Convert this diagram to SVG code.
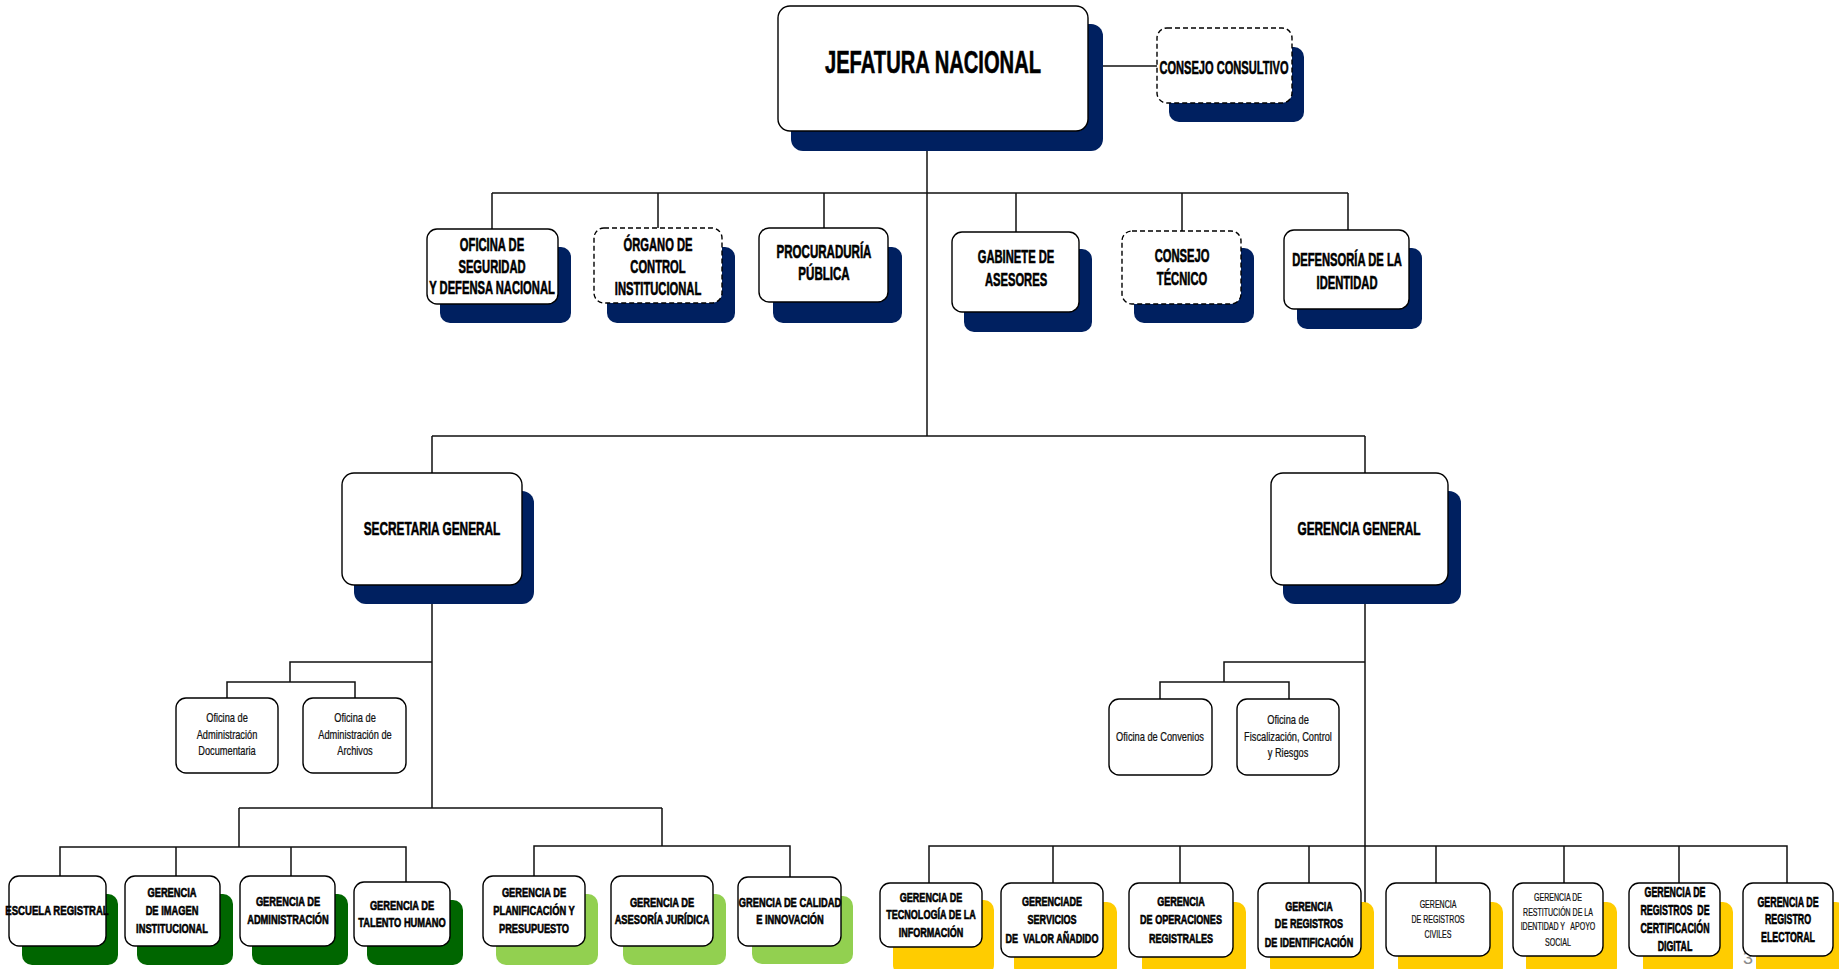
<svg xmlns="http://www.w3.org/2000/svg" width="1839" height="969" viewBox="0 0 1839 969">
<style>
.box{fill:#fff;stroke:#000;stroke-width:1.4}
.dash{stroke-dasharray:5 3}
.nv{fill:#002060}
.dg{fill:#006600}
.lg{fill:#92D050}
.ye{fill:#FFCC00}
.ln{fill:none;stroke:#111;stroke-width:1.5}
.b{font-family:"Liberation Sans",Arial,sans-serif;font-weight:bold;fill:#000;stroke:#000;stroke-width:0.6;text-anchor:middle}
.r{font-family:"Liberation Sans",Arial,sans-serif;font-weight:normal;fill:#111;stroke:#111;stroke-width:0.25;text-anchor:middle}
.pg{font-family:"Liberation Sans",Arial,sans-serif;fill:#8c8c8c;text-anchor:middle}
</style>
<rect width="1839" height="969" fill="#fff"/>
<g id="connectors">
<path class="ln" d="M1088 66H1157"/>
<path class="ln" d="M927 131V436"/>
<path class="ln" d="M492 193H1348M492 193V229M658 193V228M824 193V228M1016 193V232M1182 193V231M1348 193V230"/>
<path class="ln" d="M432 436H1365M432 436V473M1365 436V473"/>
<path class="ln" d="M432 585V808M432 662H290V682M227 698V682H355V698"/>
<path class="ln" d="M239 808H662M239 808V847M60 876V847H406V882M176 847V876M291 847V876"/>
<path class="ln" d="M662 808V846M534 876V846H790V877"/>
<path class="ln" d="M1365 585V946M1365 662H1224V682M1160 699V682H1289V699"/>
<path class="ln" d="M929 883V846H1787V883M1053 846V883M1180 846V883M1309 846V883M1436 846V883M1564 846V883M1679 846V883"/>
</g>
<text class="pg" x="1748" y="964" font-size="18">3</text>
<g id="jefatura-nacional">
<rect class="nv" x="791" y="24" width="312" height="127" rx="12"/>
<rect class="box" x="778" y="6" width="310" height="125" rx="12"/>
<text class="b" transform="translate(933 0) scale(0.63 1)" font-size="32" y="73" x="0">JEFATURA NACIONAL</text>
</g>
<g id="consejo-consultivo">
<rect class="nv" x="1169" y="47" width="135" height="75" rx="10"/>
<rect class="box dash" x="1157" y="28" width="135" height="75" rx="10"/>
<text class="b" transform="translate(1224 0) scale(0.584 1)" font-size="19" y="74" x="0">CONSEJO CONSULTIVO</text>
</g>
<g id="oficina-seguridad">
<rect class="nv" x="440" y="247" width="131" height="76" rx="10"/>
<rect class="box" x="427" y="229" width="131" height="75" rx="10"/>
<text class="b" transform="translate(492 0) scale(0.64 1)" font-size="17.5"><tspan x="0" y="251">OFICINA DE</tspan><tspan x="0" y="273">SEGURIDAD</tspan><tspan x="0" y="294">Y DEFENSA NACIONAL</tspan></text>
</g>
<g id="organo-control">
<rect class="nv" x="607" y="247" width="128" height="76" rx="10"/>
<rect class="box dash" x="594" y="228" width="128" height="75" rx="10"/>
<text class="b" transform="translate(658 0) scale(0.64 1)" font-size="17.5"><tspan x="0" y="251">ÓRGANO DE</tspan><tspan x="0" y="273">CONTROL</tspan><tspan x="0" y="295">INSTITUCIONAL</tspan></text>
</g>
<g id="procuraduria">
<rect class="nv" x="773" y="247" width="129" height="76" rx="10"/>
<rect class="box" x="759" y="228" width="129" height="74" rx="10"/>
<text class="b" transform="translate(824 0) scale(0.66 1)" font-size="17.5"><tspan x="0" y="258">PROCURADURÍA</tspan><tspan x="0" y="280">PÚBLICA</tspan></text>
</g>
<g id="gabinete">
<rect class="nv" x="964" y="249" width="128" height="83" rx="10"/>
<rect class="box" x="952" y="232" width="127" height="80" rx="10"/>
<text class="b" transform="translate(1016 0) scale(0.64 1)" font-size="17.5"><tspan x="0" y="263">GABINETE DE</tspan><tspan x="0" y="286">ASESORES</tspan></text>
</g>
<g id="consejo-tecnico">
<rect class="nv" x="1134" y="248" width="120" height="75" rx="10"/>
<rect class="box dash" x="1122" y="231" width="119" height="73" rx="10"/>
<text class="b" transform="translate(1182 0) scale(0.64 1)" font-size="17.5"><tspan x="0" y="262">CONSEJO</tspan><tspan x="0" y="285">TÉCNICO</tspan></text>
</g>
<g id="defensoria">
<rect class="nv" x="1297" y="248" width="125" height="81" rx="10"/>
<rect class="box" x="1284" y="230" width="125" height="79" rx="10"/>
<text class="b" transform="translate(1347 0) scale(0.64 1)" font-size="17.5"><tspan x="0" y="266">DEFENSORÍA DE LA</tspan><tspan x="0" y="289">IDENTIDAD</tspan></text>
</g>
<g id="secretaria-general">
<rect class="nv" x="354" y="491" width="180" height="113" rx="12"/>
<rect class="box" x="342" y="473" width="180" height="112" rx="12"/>
<text class="b" transform="translate(432 0) scale(0.64 1)" font-size="18.5" x="0" y="535">SECRETARIA GENERAL</text>
</g>
<g id="gerencia-general">
<rect class="nv" x="1283" y="491" width="178" height="113" rx="12"/>
<rect class="box" x="1271" y="473" width="177" height="112" rx="12"/>
<text class="b" transform="translate(1359 0) scale(0.64 1)" font-size="18.5" x="0" y="535">GERENCIA GENERAL</text>
</g>
<g id="of-adm-documentaria">
<rect class="box" x="176" y="698" width="102" height="75" rx="10"/>
<text class="r" transform="translate(227 0) scale(0.74 1)" font-size="12.5"><tspan x="0" y="722">Oficina de</tspan><tspan x="0" y="739">Administración</tspan><tspan x="0" y="755">Documentaria</tspan></text>
</g>
<g id="of-adm-archivos">
<rect class="box" x="303" y="698" width="103" height="75" rx="10"/>
<text class="r" transform="translate(355 0) scale(0.74 1)" font-size="12.5"><tspan x="0" y="722">Oficina de</tspan><tspan x="0" y="739">Administración de</tspan><tspan x="0" y="755">Archivos</tspan></text>
</g>
<g id="of-convenios">
<rect class="box" x="1109" y="699" width="103" height="76" rx="10"/>
<text class="r" transform="translate(1160 0) scale(0.74 1)" font-size="12.5" x="0" y="741">Oficina de Convenios</text>
</g>
<g id="of-fiscalizacion">
<rect class="box" x="1237" y="699" width="102" height="76" rx="10"/>
<text class="r" transform="translate(1288 0) scale(0.74 1)" font-size="12.5"><tspan x="0" y="724">Oficina de</tspan><tspan x="0" y="741">Fiscalización, Control</tspan><tspan x="0" y="757">y Riesgos</tspan></text>
</g>
<g id="escuela-registral">
<rect class="dg" x="22" y="894" width="96" height="71" rx="10"/>
<rect class="box" x="9" y="876" width="97" height="70" rx="10"/>
<text class="b" transform="translate(57 0) scale(0.72 1)" font-size="13.3" x="0" y="915">ESCUELA REGISTRAL</text>
</g>
<g id="g-imagen">
<rect class="dg" x="137" y="894" width="96" height="71" rx="10"/>
<rect class="box" x="125" y="876" width="95" height="70" rx="10"/>
<text class="b" transform="translate(172 0) scale(0.7 1)" font-size="13.3"><tspan x="0" y="897">GERENCIA</tspan><tspan x="0" y="915">DE IMAGEN</tspan><tspan x="0" y="933">INSTITUCIONAL</tspan></text>
</g>
<g id="g-administracion">
<rect class="dg" x="252" y="894" width="96" height="71" rx="10"/>
<rect class="box" x="240" y="876" width="95" height="70" rx="10"/>
<text class="b" transform="translate(288 0) scale(0.7 1)" font-size="13.3"><tspan x="0" y="906">GERENCIA DE</tspan><tspan x="0" y="924">ADMINISTRACIÓN</tspan></text>
</g>
<g id="g-talento">
<rect class="dg" x="367" y="900" width="96" height="65" rx="10"/>
<rect class="box" x="354" y="882" width="96" height="64" rx="10"/>
<text class="b" transform="translate(402 0) scale(0.7 1)" font-size="13.3"><tspan x="0" y="910">GERENCIA DE</tspan><tspan x="0" y="927">TALENTO HUMANO</tspan></text>
</g>
<g id="g-planificacion">
<rect class="lg" x="496" y="894" width="102" height="71" rx="10"/>
<rect class="box" x="483" y="876" width="102" height="70" rx="10"/>
<text class="b" transform="translate(534 0) scale(0.7 1)" font-size="13.3"><tspan x="0" y="897">GERENCIA DE</tspan><tspan x="0" y="915">PLANIFICACIÓN Y</tspan><tspan x="0" y="933">PRESUPUESTO</tspan></text>
</g>
<g id="g-asesoria">
<rect class="lg" x="623" y="894" width="103" height="71" rx="10"/>
<rect class="box" x="611" y="876" width="102" height="70" rx="10"/>
<text class="b" transform="translate(662 0) scale(0.7 1)" font-size="13.3"><tspan x="0" y="907">GERENCIA DE</tspan><tspan x="0" y="924">ASESORÍA JURÍDICA</tspan></text>
</g>
<g id="g-calidad">
<rect class="lg" x="752" y="896" width="101" height="68" rx="10"/>
<rect class="box" x="738" y="877" width="103" height="69" rx="10"/>
<text class="b" transform="translate(790 0) scale(0.7 1)" font-size="13.3"><tspan x="0" y="907">GRENCIA DE CALIDAD</tspan><tspan x="0" y="924">E INNOVACIÓN</tspan></text>
</g>
<g id="g-tecnologia">
<rect class="ye" x="893" y="900" width="101" height="75" rx="10"/>
<rect class="box" x="880" y="883" width="102" height="64" rx="10"/>
<text class="b" transform="translate(931 0) scale(0.68 1)" font-size="13.3"><tspan x="0" y="902">GERENCIA DE</tspan><tspan x="0" y="919">TECNOLOGÍA DE LA</tspan><tspan x="0" y="937">INFORMACIÓN</tspan></text>
</g>
<g id="g-valor-anadido">
<rect class="ye" x="1014" y="902" width="103" height="75" rx="10"/>
<rect class="box" x="1001" y="883" width="102" height="74" rx="10"/>
<text class="b" transform="translate(1052 0) scale(0.68 1)" font-size="13.3" xml:space="preserve"><tspan x="0" y="906">GERENCIADE</tspan><tspan x="0" y="924">SERVICIOS</tspan><tspan x="0" y="943">DE  VALOR AÑADIDO</tspan></text>
</g>
<g id="g-operaciones">
<rect class="ye" x="1142" y="902" width="104" height="75" rx="10"/>
<rect class="box" x="1129" y="883" width="104" height="74" rx="10"/>
<text class="b" transform="translate(1181 0) scale(0.68 1)" font-size="13.3"><tspan x="0" y="906">GERENCIA</tspan><tspan x="0" y="924">DE OPERACIONES</tspan><tspan x="0" y="943">REGISTRALES</tspan></text>
</g>
<g id="g-identificacion">
<rect class="ye" x="1270" y="902" width="104" height="75" rx="10"/>
<rect class="box" x="1258" y="883" width="103" height="74" rx="10"/>
<text class="b" transform="translate(1309 0) scale(0.68 1)" font-size="13.3"><tspan x="0" y="911">GERENCIA</tspan><tspan x="0" y="928">DE REGISTROS</tspan><tspan x="0" y="947">DE IDENTIFICACIÓN</tspan></text>
</g>
<g id="g-civiles">
<rect class="ye" x="1398" y="902" width="105" height="75" rx="10"/>
<rect class="box" x="1386" y="883" width="104" height="73" rx="10"/>
<text class="r" transform="translate(1438 0) scale(0.67 1)" font-size="10.5"><tspan x="0" y="908">GERENCIA</tspan><tspan x="0" y="923">DE REGISTROS</tspan><tspan x="0" y="938">CIVILES</tspan></text>
</g>
<g id="g-restitucion">
<rect class="ye" x="1526" y="902" width="91" height="75" rx="10"/>
<rect class="box" x="1513" y="883" width="90" height="73" rx="10"/>
<text class="r" transform="translate(1558 0) scale(0.67 1)" font-size="10.5" xml:space="preserve"><tspan x="0" y="901">GERENCIA DE</tspan><tspan x="0" y="916">RESTITUCIÓN DE LA</tspan><tspan x="0" y="930">IDENTIDAD Y   APOYO</tspan><tspan x="0" y="946">SOCIAL</tspan></text>
</g>
<g id="g-certificacion">
<rect class="ye" x="1643" y="902" width="90" height="75" rx="10"/>
<rect class="box" x="1629" y="883" width="91" height="73" rx="10"/>
<text class="b" transform="translate(1675 0) scale(0.63 1)" font-size="14" xml:space="preserve"><tspan x="0" y="897">GERENCIA DE</tspan><tspan x="0" y="915">REGISTROS  DE</tspan><tspan x="0" y="933">CERTIFICACIÓN</tspan><tspan x="0" y="951">DIGITAL</tspan></text>
</g>
<g id="g-electoral">
<rect class="ye" x="1756" y="902" width="90" height="75" rx="10"/>
<rect class="box" x="1743" y="883" width="90" height="73" rx="10"/>
<text class="b" transform="translate(1788 0) scale(0.59 1)" font-size="15"><tspan x="0" y="907">GERENCIA DE</tspan><tspan x="0" y="924">REGISTRO</tspan><tspan x="0" y="942">ELECTORAL</tspan></text>
</g>
</svg>
